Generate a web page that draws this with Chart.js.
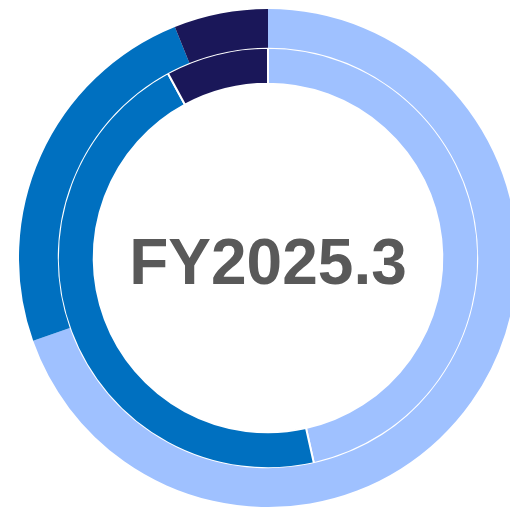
<!DOCTYPE html>
<html>
<head>
<meta charset="utf-8">
<script src="https://cdn.jsdelivr.net/npm/chart.js@4.4.1/dist/chart.umd.min.js"></script>
<style>
  html, body { margin: 0; padding: 0; overflow: hidden; background: #fff; width: 510px; height: 508px; }
  #donut { position: absolute; left: 19px; top: 9px; }
</style>
</head>
<body>
<canvas id="donut" width="498" height="498"></canvas>
<script>
const categories = ['A', 'B', 'C'];
const outerValues = [69.6, 24.3, 6.1];
const innerValues = [46.5, 45.6, 7.9];
const colors = ['#9FC1FF', '#0070C0', '#1A1759'];
const centerLabel = 'FY2025.3';

const centerText = {
  id: 'centerText',
  afterDraw(chart) {
    const ctx = chart.ctx;
    const x = (chart.chartArea.left + chart.chartArea.right) / 2;
    const y = (chart.chartArea.top + chart.chartArea.bottom) / 2;
    ctx.save();
    ctx.font = 'bold 64px "Liberation Sans", Arial, sans-serif';
    ctx.fillStyle = '#595959';
    ctx.textAlign = 'center';
    ctx.textBaseline = 'alphabetic';
    ctx.fillText(centerLabel, x, y + 26);
    ctx.restore();
  }
};

new Chart(document.getElementById('donut'), {
  type: 'doughnut',
  data: {
    labels: categories,
    datasets: [
      {
        data: outerValues,
        backgroundColor: colors,
        borderWidth: 0,
        hoverBorderWidth: 0,
        weight: 1.08
      },
      {
        data: innerValues,
        backgroundColor: colors,
        borderColor: '#ffffff',
        borderWidth: 2,
        hoverBorderWidth: 2,
        weight: 1
      }
    ]
  },
  options: {
    responsive: false,
    animation: false,
    cutout: '70%',
    layout: { padding: 0 },
    plugins: {
      legend: { display: false },
      tooltip: { enabled: false }
    }
  },
  plugins: [centerText]
});
</script>
</body>
</html>
